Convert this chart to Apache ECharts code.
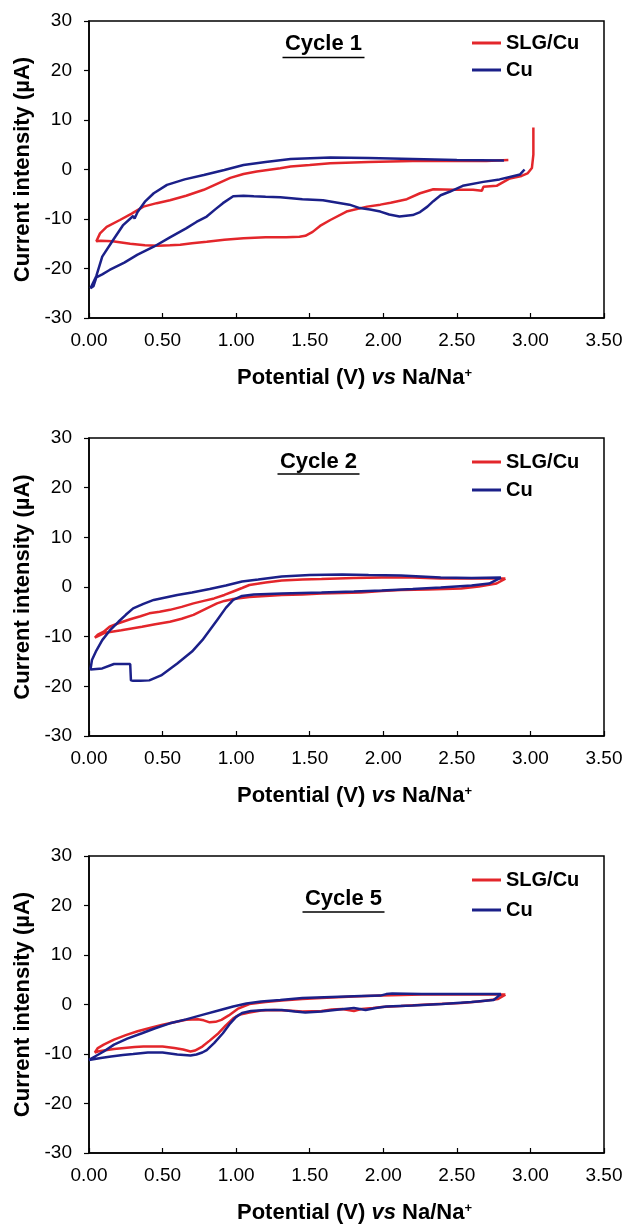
<!DOCTYPE html>
<html>
<head>
    <meta charset="UTF-8">
    <title>Cyclic voltammetry SLG/Cu vs Cu</title>
    <script src="https://cdn.jsdelivr.net/npm/echarts@6/dist/echarts.min.js"></script>
    <style>
        html, body { margin: 0; padding: 0; background: #fff; }
    </style>
</head>
<body>
    <div id="cv" style="width:630px; height:1229px;"></div>
    <script>
        // cycle 1
        var c1SlgV = [3.02, 3.02, 3.01, 2.98, 2.94, 2.86, 2.77, 2.68, 2.67, 2.61, 2.48, 2.34, 2.25, 2.16, 2.05, 1.98, 1.89, 1.75, 1.64, 1.57, 1.52, 1.47, 1.43, 1.34, 1.20, 1.05, 0.92, 0.80, 0.70, 0.62, 0.55, 0.47, 0.38, 0.28, 0.16, 0.08, 0.05, 0.05, 0.075, 0.12, 0.21, 0.29, 0.37, 0.46, 0.55, 0.66, 0.78, 0.87, 0.96, 1.05, 1.14, 1.30, 1.37, 1.50, 1.64, 1.90, 2.20, 2.50, 2.70, 2.85];
        var c1SlgI = [8.5, 3.0, 0.3, -0.8, -1.3, -1.8, -3.3, -3.5, -4.3, -4.1, -4.1, -4.0, -4.8, -6.0, -6.7, -7.1, -7.5, -8.5, -10.2, -11.4, -12.6, -13.4, -13.6, -13.7, -13.7, -13.9, -14.2, -14.6, -14.9, -15.2, -15.3, -15.4, -15.3, -15.0, -14.5, -14.4, -14.5, -14.2, -12.9, -11.6, -10.2, -8.9, -7.5, -6.8, -6.2, -5.3, -4.1, -2.9, -1.7, -0.9, -0.4, 0.24, 0.6, 0.9, 1.25, 1.5, 1.7, 1.7, 1.7, 1.9];
        var c1CuV = [2.96, 2.93, 2.86, 2.79, 2.68, 2.54, 2.45, 2.39, 2.34, 2.30, 2.25, 2.20, 2.11, 2.04, 1.98, 1.91, 1.84, 1.77, 1.71, 1.59, 1.45, 1.30, 1.20, 1.12, 1.05, 0.98, 0.91, 0.86, 0.80, 0.73, 0.66, 0.55, 0.44, 0.33, 0.24, 0.14, 0.09, 0.05, 0.03, 0.01, 0.02, 0.05, 0.09, 0.165, 0.23, 0.30, 0.31, 0.33, 0.38, 0.44, 0.53, 0.65, 0.78, 0.92, 1.05, 1.20, 1.37, 1.64, 1.90, 2.20, 2.50, 2.82];
        var c1CuI = [0.0, -1.0, -1.5, -2.0, -2.5, -3.3, -4.5, -5.2, -6.4, -7.5, -8.6, -9.2, -9.5, -9.1, -8.5, -8.1, -7.8, -7.1, -6.8, -6.2, -6.0, -5.6, -5.5, -5.4, -5.3, -5.4, -6.8, -8.0, -9.5, -10.6, -11.9, -13.7, -15.6, -17.2, -18.8, -20.3, -21.2, -21.8, -23.6, -24.0, -23.8, -21.5, -17.6, -14.2, -11.3, -9.4, -9.9, -8.6, -6.5, -4.8, -3.1, -2.0, -1.1, -0.1, 0.9, 1.5, 2.1, 2.4, 2.3, 2.1, 1.9, 1.8];

        // cycle 2
        var c2SlgV = [2.83, 2.77, 2.65, 2.53, 2.30, 2.12, 1.99, 1.85, 1.72, 1.58, 1.45, 1.31, 1.20, 1.09, 0.98, 0.92, 0.87, 0.80, 0.71, 0.63, 0.55, 0.45, 0.36, 0.22, 0.11, 0.04, 0.06, 0.10, 0.14, 0.20, 0.28, 0.35, 0.41, 0.48, 0.55, 0.63, 0.71, 0.78, 0.85, 0.92, 0.98, 1.04, 1.09, 1.20, 1.31, 1.45, 1.58, 1.80, 1.99, 2.20, 2.39, 2.60, 2.83];
        var c2SlgI = [1.7, 0.7, 0.1, -0.3, -0.5, -0.6, -0.8, -1.1, -1.2, -1.3, -1.5, -1.6, -1.8, -2.0, -2.4, -2.8, -3.3, -4.3, -5.6, -6.4, -7.0, -7.5, -8.0, -8.7, -9.2, -10.2, -9.6, -9.0, -8.0, -7.3, -6.5, -5.9, -5.3, -5.0, -4.6, -4.0, -3.3, -2.8, -2.3, -1.6, -0.9, -0.2, 0.4, 0.9, 1.3, 1.5, 1.6, 1.8, 1.9, 1.9, 1.7, 1.7, 1.7];
        var c2CuV = [2.80, 2.72, 2.60, 2.39, 2.20, 1.99, 1.80, 1.58, 1.31, 1.12, 1.04, 0.98, 0.93, 0.87, 0.82, 0.77, 0.70, 0.60, 0.49, 0.41, 0.35, 0.30, 0.285, 0.28, 0.28, 0.22, 0.17, 0.09, 0.01, 0.0, 0.02, 0.05, 0.09, 0.14, 0.20, 0.25, 0.30, 0.37, 0.44, 0.52, 0.60, 0.70, 0.82, 0.93, 1.04, 1.15, 1.31, 1.50, 1.72, 1.90, 2.12, 2.39, 2.60, 2.80];
        var c2CuI = [1.9, 0.7, 0.3, -0.1, -0.4, -0.7, -0.9, -1.1, -1.3, -1.5, -1.8, -2.6, -4.2, -6.7, -8.7, -10.7, -13.0, -15.4, -17.8, -18.8, -18.9, -18.9, -18.8, -18.8, -15.5, -15.5, -15.5, -16.4, -16.6, -16.6, -14.7, -12.8, -10.7, -8.8, -7.0, -5.6, -4.3, -3.4, -2.6, -2.1, -1.6, -1.1, -0.4, 0.3, 1.1, 1.5, 2.1, 2.4, 2.5, 2.4, 2.3, 1.9, 1.8, 1.9];

        // cycle 5
        var c5SlgV = [2.83, 2.78, 2.65, 2.53, 2.30, 2.12, 1.99, 1.93, 1.85, 1.80, 1.76, 1.72, 1.65, 1.58, 1.45, 1.35, 1.26, 1.17, 1.09, 1.02, 0.98, 0.93, 0.88, 0.82, 0.77, 0.72, 0.69, 0.64, 0.58, 0.50, 0.44, 0.37, 0.31, 0.24, 0.17, 0.10, 0.06, 0.04, 0.06, 0.10, 0.17, 0.25, 0.33, 0.42, 0.50, 0.58, 0.66, 0.74, 0.78, 0.82, 0.86, 0.90, 0.95, 1.01, 1.09, 1.20, 1.31, 1.45, 1.58, 1.80, 1.99, 2.26, 2.55, 2.83];
        var c5SlgI = [2.0, 1.1, 0.6, 0.3, 0.0, -0.3, -0.5, -0.7, -0.9, -1.3, -1.1, -0.9, -1.0, -1.3, -1.4, -1.2, -1.1, -1.2, -1.6, -2.1, -2.8, -4.2, -5.8, -7.3, -8.5, -9.3, -9.5, -9.1, -8.8, -8.5, -8.5, -8.5, -8.6, -8.8, -9.0, -9.3, -9.5, -9.7, -8.8, -8.1, -7.1, -6.2, -5.4, -4.7, -4.1, -3.6, -3.1, -3.0, -3.2, -3.6, -3.5, -3.1, -2.2, -0.9, 0.1, 0.5, 0.8, 1.1, 1.3, 1.6, 1.8, 2.0, 2.0, 2.0];
        var c5CuV = [2.80, 2.75, 2.60, 2.40, 2.20, 2.02, 1.95, 1.88, 1.84, 1.80, 1.70, 1.58, 1.47, 1.40, 1.31, 1.20, 1.10, 1.04, 1.00, 0.96, 0.91, 0.85, 0.80, 0.77, 0.73, 0.69, 0.60, 0.50, 0.40, 0.30, 0.23, 0.15, 0.08, 0.0, 0.01, 0.04, 0.10, 0.17, 0.26, 0.36, 0.45, 0.55, 0.66, 0.77, 0.88, 0.98, 1.07, 1.17, 1.30, 1.45, 1.65, 1.85, 1.98, 2.02, 2.06, 2.26, 2.50, 2.80];
        var c5CuI = [2.1, 0.9, 0.5, 0.1, -0.2, -0.4, -0.7, -1.1, -0.9, -0.7, -1.0, -1.4, -1.6, -1.4, -1.1, -1.1, -1.3, -1.7, -2.5, -3.8, -5.8, -7.8, -9.2, -9.7, -10.1, -10.3, -10.1, -9.7, -9.7, -10.0, -10.2, -10.5, -10.8, -11.2, -10.9, -10.5, -9.5, -8.1, -6.9, -5.8, -4.8, -3.8, -3.0, -2.1, -1.2, -0.4, 0.2, 0.6, 0.9, 1.3, 1.5, 1.7, 1.8, 2.1, 2.2, 2.1, 2.1, 2.1];

        var cycleNames = ['Cycle 1', 'Cycle 2', 'Cycle 5'];
        var seriesNames = ['SLG/Cu', 'Cu'];
        var xTicks = [0, 3.5, 0.5];   // min, max, step
        var yTicks = [-30, 30, 10];

        var FONT = '"Liberation Sans", Arial, Helvetica, sans-serif';
        var RED = '#e3262b', BLUE = '#1b2089';

        function zip(v, i) {
            var out = [];
            for (var k = 0; k < v.length; k++) out.push([v[k], i[k]]);
            return out;
        }

        var cycles = [
            [zip(c1SlgV, c1SlgI), zip(c1CuV, c1CuI)],
            [zip(c2SlgV, c2SlgI), zip(c2CuV, c2CuI)],
            [zip(c5SlgV, c5SlgI), zip(c5CuV, c5CuI)]
        ];

        // panel layout
        var panelTop = [21, 438, 856];
        var panelH = [297, 298, 297];
        var legendTop = [33, 452, 870];
        var legendGap = [7, 8, 10];
        var titlePos = [[323.5, 44, 57.5], [318.5, 461.5, 474], [343.5, 899, 912]];

        var chart = echarts.init(document.getElementById('cv'), null, {renderer: 'canvas'});

        var grids = [], xAxes = [], yAxes = [], series = [], legends = [], graphics = [];
        for (var p = 0; p < 3; p++) {
            grids.push({
                left: 89, top: panelTop[p], width: 515, height: panelH[p],
                show: true, borderColor: '#000', borderWidth: 1.5, backgroundColor: 'transparent'
            });
            xAxes.push({
                gridIndex: p, type: 'value',
                min: xTicks[0], max: xTicks[1], interval: xTicks[2],
                axisLine: {onZero: false, lineStyle: {color: '#000', width: 1.5}},
                axisTick: {inside: true, length: 5, lineStyle: {color: '#000', width: 1.2}},
                axisLabel: {
                    color: '#000', fontSize: 19, fontFamily: FONT, margin: 13,
                    formatter: function (v) { return v.toFixed(2); }
                },
                splitLine: {show: false},
                name: '{b|Potential (V) }{i|vs}{b| Na/Na}{s|+}',
                nameLocation: 'middle', nameGap: 49,
                nameTextStyle: {
                    padding: [0, 0, 0, 16],
                    rich: {
                        b: {fontSize: 22, fontWeight: 'bold', fontFamily: FONT, color: '#000'},
                        i: {fontSize: 22, fontWeight: 'bold', fontStyle: 'italic', fontFamily: FONT, color: '#000'},
                        s: {fontSize: 13, fontWeight: 'bold', fontFamily: FONT, color: '#000', verticalAlign: 'top'}
                    }
                }
            });
            yAxes.push({
                gridIndex: p, type: 'value',
                min: yTicks[0], max: yTicks[1], interval: yTicks[2],
                axisLine: {show: true, onZero: false, lineStyle: {color: '#000', width: 1.5}},
                axisTick: {show: true, inside: false, length: 5, lineStyle: {color: '#000', width: 1.2}},
                axisLabel: {color: '#000', fontSize: 19, fontFamily: FONT, margin: 17},
                splitLine: {show: false},
                name: 'Current intensity (µA)',
                nameLocation: 'middle', nameGap: 54,
                nameTextStyle: {fontSize: 22, fontWeight: 'bold', fontFamily: FONT, color: '#000'}
            });
            series.push({
                name: seriesNames[0], type: 'line', xAxisIndex: p, yAxisIndex: p,
                data: cycles[p][0], showSymbol: false, symbol: 'none',
                color: RED, lineStyle: {color: RED, width: 2.5}
            });
            series.push({
                name: seriesNames[1], type: 'line', xAxisIndex: p, yAxisIndex: p,
                data: cycles[p][1], showSymbol: false, symbol: 'none',
                color: BLUE, lineStyle: {color: BLUE, width: 2.5}
            });
            legends.push({
                data: seriesNames, orient: 'vertical', left: 472, top: legendTop[p],
                padding: 0, itemGap: legendGap[p], itemWidth: 29, itemHeight: 3, icon: 'rect',
                selectedMode: false,
                textStyle: {fontSize: 20, fontWeight: 'bold', fontFamily: FONT, color: '#000'}
            });
            graphics.push({
                type: 'text', x: titlePos[p][0], y: titlePos[p][1],
                style: {
                    text: cycleNames[p], align: 'center', verticalAlign: 'middle',
                    fontSize: 22, fontWeight: 'bold', fontFamily: FONT, fill: '#000'
                }
            });
            graphics.push({
                type: 'line',
                shape: {x1: titlePos[p][0] - 41, y1: titlePos[p][2], x2: titlePos[p][0] + 41, y2: titlePos[p][2]},
                style: {stroke: '#000', lineWidth: 1.6}
            });
        }

        chart.setOption({
            animation: false,
            backgroundColor: '#fff',
            grid: grids,
            xAxis: xAxes,
            yAxis: yAxes,
            legend: legends,
            graphic: graphics,
            series: series
        });
    </script>
</body>
</html>
